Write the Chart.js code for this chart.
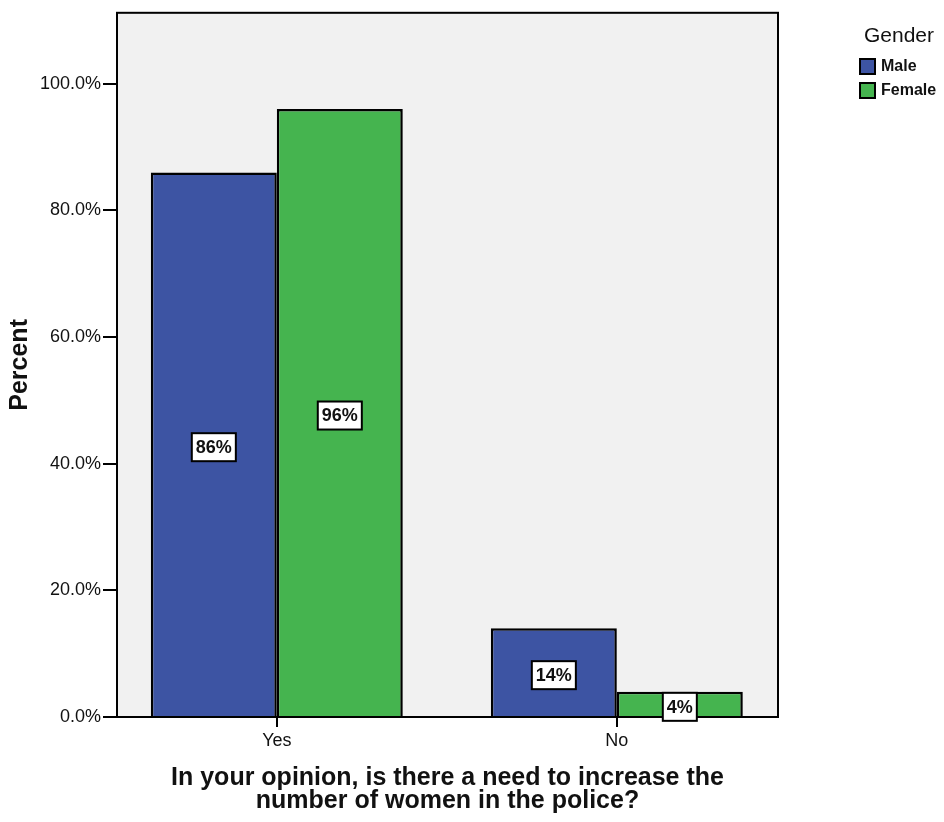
<!DOCTYPE html>
<html>
<head>
<meta charset="utf-8">
<script src="https://cdn.jsdelivr.net/npm/chart.js@4"></script>
<style>
  html, body { margin: 0; padding: 0; background: #fff; }
  #wrap { width: 944px; height: 822px; }
</style>
</head>
<body>
<div id="wrap"><canvas id="chart" width="944" height="822"></canvas></div>
<script>
const categories = ['Yes', 'No'];
const maleValues = [86, 14];
const femaleValues = [96, 4];
const yTicks = [0, 20, 40, 60, 80, 100];
const legendTitle = 'Gender';

const FONT = '"Liberation Sans", Arial, sans-serif';

// grey plot background + black frame round the chart area
const frame = {
  id: 'frame',
  beforeDatasetsDraw(chart) {
    const { ctx, chartArea: a } = chart;
    ctx.save();
    ctx.fillStyle = '#f1f1f1';
    ctx.fillRect(a.left, a.top, a.right - a.left, a.bottom - a.top);
    ctx.restore();
  },
  afterDatasetsDraw(chart) {
    const { ctx, chartArea: a } = chart;
    ctx.save();
    ctx.strokeStyle = '#000';
    ctx.lineWidth = 2;
    ctx.strokeRect(a.left, a.top, a.right - a.left, a.bottom - a.top);
    ctx.restore();
  }
};

// white boxed value labels in the middle of each bar
const boxLabels = {
  id: 'boxLabels',
  afterDraw(chart) {
    const { ctx } = chart;
    ctx.save();
    ctx.font = 'bold 18px ' + FONT;
    ctx.textAlign = 'center';
    ctx.textBaseline = 'middle';
    chart.data.datasets.forEach((ds, i) => {
      chart.getDatasetMeta(i).data.forEach((bar, j) => {
        const txt = ds.data[j].y + '%';
        const w = ctx.measureText(txt).width + 8;
        const h = 28;
        const cx = bar.x;
        const cy = (bar.y + bar.base) / 2 + 3;
        ctx.fillStyle = '#fff';
        ctx.fillRect(cx - w / 2, cy - h / 2, w, h);
        ctx.strokeStyle = '#000';
        ctx.lineWidth = 2;
        ctx.strokeRect(cx - w / 2, cy - h / 2, w, h);
        ctx.fillStyle = '#111';
        ctx.fillText(txt, cx, cy + 1);
      });
    });
    ctx.restore();
  }
};

// legend on the right, drawn from the datasets
const sideLegend = {
  id: 'sideLegend',
  afterDraw(chart) {
    const { ctx } = chart;
    ctx.save();
    ctx.fillStyle = '#111';
    ctx.font = '21px ' + FONT;
    ctx.textBaseline = 'middle';
    ctx.textAlign = 'left';
    ctx.fillText(legendTitle, 864, 36);
    ctx.font = 'bold 16px ' + FONT;
    chart.data.datasets.forEach((ds, i) => {
      const y = 59 + i * 24;
      ctx.fillStyle = ds.backgroundColor;
      ctx.fillRect(860, y, 15, 15);
      ctx.strokeStyle = '#000';
      ctx.lineWidth = 2;
      ctx.strokeRect(860, y, 15, 15);
      ctx.fillStyle = '#111';
      ctx.fillText(ds.label, 881, y + 8);
    });
    ctx.restore();
  }
};

const toPoints = vals => vals.map((v, i) => ({ x: i, y: v }));

new Chart(document.getElementById('chart'), {
  type: 'bar',
  data: {
    datasets: [
      { label: 'Male', data: toPoints(maleValues), backgroundColor: '#3d54a3', borderColor: '#000', borderWidth: 2.5, borderSkipped: 'bottom' },
      { label: 'Female', data: toPoints(femaleValues), backgroundColor: '#45b44f', borderColor: '#000', borderWidth: 2.5, borderSkipped: 'bottom' }
    ]
  },
  options: {
    responsive: false,
    animation: false,
    layout: { padding: { top: 8, right: 166, left: 0, bottom: 0 } },
    datasets: { bar: { categoryPercentage: 0.741, barPercentage: 1 } },
    plugins: {
      legend: { display: false },
      tooltip: { enabled: false }
    },
    scales: {
      x: {
        type: 'linear',
        min: -0.47,
        max: 1.474,
        offset: false,
        grid: { display: true, offset: false, drawOnChartArea: false, drawTicks: true, tickLength: 10, color: '#000', lineWidth: 2 },
        border: { display: false },
        afterBuildTicks(scale) {
          scale.ticks = categories.map((c, i) => ({ value: i }));
        },
        ticks: {
          color: '#111',
          font: { family: FONT, size: 18 },
          padding: 3,
          callback: v => categories[v]
        },
        title: {
          display: true,
          text: ['In your opinion, is there a need to increase the', 'number of women in the police?'],
          color: '#111',
          font: { family: FONT, size: 25, weight: 'bold', lineHeight: 0.92 },
          padding: { top: 0, bottom: 9 }
        },
        afterFit(scale) { scale.height = 105; }
      },
      y: {
        min: 0,
        max: 111.2,
        grid: { display: true, drawOnChartArea: false, drawTicks: true, tickLength: 14, color: '#000', lineWidth: 2 },
        border: { display: false },
        ticks: {
          color: '#111',
          padding: 2,
          font: { family: FONT, size: 18 },
          callback: v => v.toFixed(1) + '%'
        },
        afterBuildTicks(scale) {
          scale.ticks = yTicks.map(v => ({ value: v }));
        },
        title: {
          display: true,
          text: 'Percent',
          color: '#111',
          font: { family: FONT, size: 25, weight: 'bold' },
          padding: { top: 5, bottom: 0 }
        },
        afterFit(scale) { scale.width = 117; }
      }
    }
  },
  plugins: [frame, boxLabels, sideLegend]
});
</script>
</body>
</html>
